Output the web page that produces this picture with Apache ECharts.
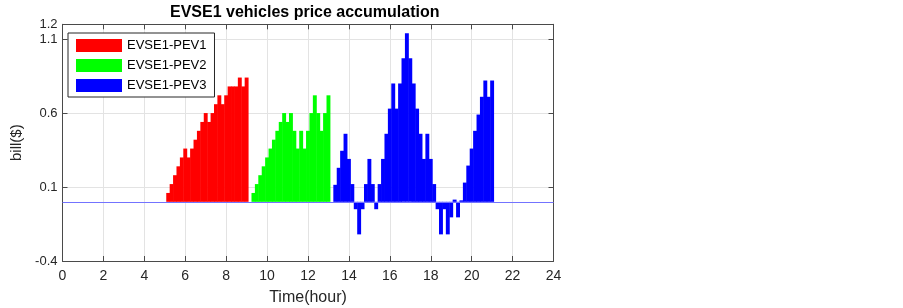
<!DOCTYPE html>
<html>
<head>
<meta charset="utf-8">
<script src="https://cdn.jsdelivr.net/npm/echarts@6/dist/echarts.min.js"></script>
<style>
  html, body { margin: 0; padding: 0; background: #fff; }
  #chart { width: 903px; height: 308px; }
</style>
</head>
<body>
<div id="chart"></div>
<script>
// bars are 10-minute slots; slot k is centred at k/6 hours
const slotsPerHour = 6;

const pev1Start = 31; // 5:10
const pev1Values = [0.06, 0.12, 0.18, 0.24, 0.30, 0.36, 0.30, 0.36, 0.42, 0.48, 0.54, 0.60,
                    0.54, 0.60, 0.66, 0.72, 0.66, 0.72, 0.78, 0.78, 0.78, 0.84, 0.78, 0.84];

const pev2Start = 56; // 9:20
const pev2Values = [0.06, 0.12, 0.18, 0.24, 0.30, 0.36, 0.42, 0.48, 0.54, 0.60, 0.54, 0.60,
                    0.48, 0.36, 0.48, 0.36, 0.48, 0.60, 0.72, 0.60, 0.48, 0.60, 0.72];

const pev3Start = 80; // 13:20
const pev3Values = [0.115, 0.23, 0.345, 0.46, 0.29, 0.12, -0.05, -0.22, -0.05, 0.12, 0.29, 0.12,
                    -0.05, 0.12, 0.29, 0.46, 0.63, 0.80, 0.63, 0.80, 0.97, 1.14, 0.97, 0.80,
                    0.63, 0.46, 0.29, 0.46, 0.29, 0.12, -0.05, -0.22, -0.05, -0.22, -0.105, 0.015,
                    -0.105, 0.01, 0.13, 0.245, 0.36, 0.48, 0.59, 0.71, 0.82, 0.71, 0.82];

const seriesNames = ['EVSE1-PEV1', 'EVSE1-PEV2', 'EVSE1-PEV3'];
const seriesColors = ['#ff0000', '#00ff00', '#0000ff'];
const xTicks = { min: 0, max: 24, interval: 2 };
const yTicks = { min: -0.4, max: 1.2, interval: 0.5 };

const FONT = 'Liberation Sans, Arial, Helvetica, sans-serif';
const gridBox = { left: 62.5, right: 349.5, top: 24.3, bottom: 47, outerBoundsMode: 'none' };
const plotWidth = 903 - gridBox.left - gridBox.right;
const slotWidth = plotWidth / (xTicks.max - xTicks.min) / slotsPerHour;

function toPairs(start, values) {
    let out = [];
    for (let i = 0; i < values.length; i++) {
        out.push([(start + i) / slotsPerHour, values[i]]);
    }
    return out;
}

const chart = echarts.init(document.getElementById('chart'), null, { renderer: 'canvas' });

const axisColor = '#4a4a4a';
const gridColor = '#e3e3e3';

let series = [];
const sets = [[pev1Start, pev1Values], [pev2Start, pev2Values], [pev3Start, pev3Values]];
for (let s = 0; s < sets.length; s++) {
    let bar = {
        name: seriesNames[s],
        type: 'bar',
        data: toPairs(sets[s][0], sets[s][1]),
        // a hair wider than the slot so neighbouring bars close up without seams
        barWidth: slotWidth + 0.5,
        barGap: '-100%',
        itemStyle: { color: seriesColors[s] },
        z: 2
    };
    if (s == 2) {
        // zero baseline across the whole axis, as the bar plot draws it
        bar.markLine = {
            silent: true,
            symbol: ['none', 'none'],
            label: { show: false },
            lineStyle: { color: '#7373ff', width: 1, type: 'solid' },
            data: [{ yAxis: 0 }],
            z: 5
        };
    }
    series.push(bar);
}

const option = {
    animation: false,
    backgroundColor: '#fff',
    textStyle: { fontFamily: FONT },
    title: {
        text: 'EVSE1 vehicles price accumulation',
        left: 170,
        top: 5,
        padding: 0,
        textStyle: { fontFamily: FONT, fontSize: 16, fontWeight: 'bold', color: '#000' }
    },
    legend: {
        orient: 'vertical',
        left: 68,
        top: 33,
        padding: [6, 8, 5, 8],
        itemWidth: 46,
        itemHeight: 13,
        itemGap: 7,
        icon: 'rect',
        borderColor: '#262626',
        borderWidth: 1,
        backgroundColor: '#fff',
        textStyle: { fontFamily: FONT, fontSize: 13, color: '#000' },
        data: seriesNames
    },
    grid: gridBox,
    xAxis: [{
        type: 'value',
        min: xTicks.min, max: xTicks.max, interval: xTicks.interval,
        position: 'bottom',
        name: 'Time(hour)',
        nameLocation: 'middle',
        nameGap: 29,
        nameTextStyle: { fontFamily: FONT, fontSize: 16, color: '#262626' },
        axisLine: { show: true, onZero: false, lineStyle: { color: axisColor, width: 1 } },
        axisTick: { show: true, inside: true, length: 5, lineStyle: { color: axisColor } },
        axisLabel: { fontFamily: FONT, fontSize: 14, color: '#262626', margin: 8 },
        splitLine: { show: true, lineStyle: { color: gridColor, width: 1 } }
    }, {
        type: 'value',
        min: xTicks.min, max: xTicks.max, interval: xTicks.interval,
        position: 'top',
        axisLine: { show: true, onZero: false, lineStyle: { color: axisColor, width: 1 } },
        axisTick: { show: true, inside: true, length: 5, lineStyle: { color: axisColor } },
        axisLabel: { show: false },
        splitLine: { show: false }
    }],
    yAxis: [{
        type: 'value',
        min: yTicks.min, max: yTicks.max, interval: yTicks.interval,
        position: 'left',
        name: 'bill($)',
        nameLocation: 'middle',
        nameGap: 31,
        nameTextStyle: { fontFamily: FONT, fontSize: 15, color: '#262626' },
        axisLine: { show: true, onZero: false, lineStyle: { color: axisColor, width: 1 } },
        axisTick: { show: true, inside: true, length: 5, lineStyle: { color: axisColor } },
        axisLabel: { fontFamily: FONT, fontSize: 13, color: '#262626', margin: 5 },
        splitLine: { show: true, lineStyle: { color: gridColor, width: 1 } }
    }, {
        type: 'value',
        min: yTicks.min, max: yTicks.max, interval: yTicks.interval,
        position: 'right',
        axisLine: { show: true, onZero: false, lineStyle: { color: axisColor, width: 1 } },
        axisTick: { show: true, inside: true, length: 5, lineStyle: { color: axisColor } },
        axisLabel: { show: false },
        splitLine: { show: false }
    }],
    series: series
};

chart.setOption(option);
</script>
</body>
</html>
